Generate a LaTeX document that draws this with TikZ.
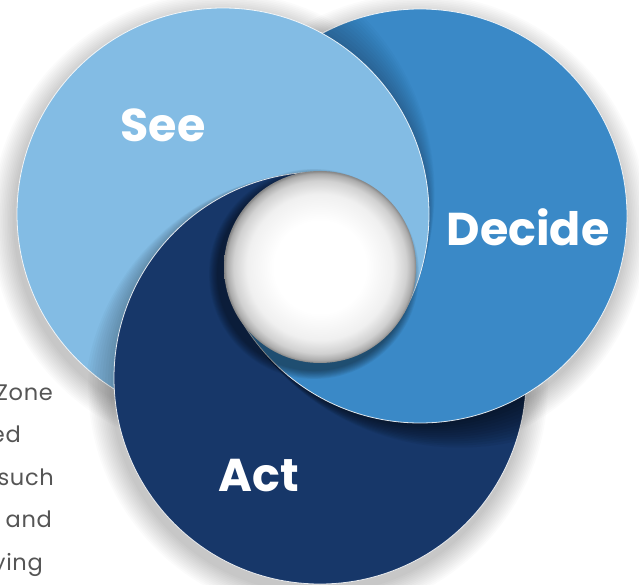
\documentclass[tikz,border=0pt]{standalone}
\usepackage{fontspec}
\setmainfont{Poppins}
\newfontfamily\sidefont[LetterSpace=3]{Poppins}
\definecolor{seec}{HTML}{83BCE4}
\definecolor{decc}{HTML}{3A89C7}
\definecolor{actc}{HTML}{173769}
\definecolor{txtc}{HTML}{555555}
\pgfdeclareradialshading{holeshade}{\pgfpoint{0bp}{0bp}}{%
 color(0bp)=(white); color(12bp)=(white); color(19bp)=(black!6);
 color(22.5bp)=(black!18); color(24.3bp)=(black!33); color(25bp)=(black!48); color(50bp)=(black!48)}
\tikzset{
 rim/.style={draw=white, line width=0.8pt, draw opacity=0.85},
 lbl/.style={text=white, font=\fontsize{46}{46}\selectfont\bfseries, inner sep=0pt},
 side/.style={text=txtc, font=\sidefont\fontsize{22.5}{22.5}\selectfont, inner sep=0pt, anchor=base east},
}
% sectors around the hole centre (320,267)
\newcommand\secAext{(326,267) -- (326,-1000) -- (-1494,-1000) -- (-1494,1195) -- cycle}
\newcommand\secB{(320,267) -- (320,-1000) -- (2000,-1000) -- (2000,1185) -- cycle}
\newcommand\secCext{(320,261) -- (-1500,1189) -- (-1500,3000) -- (2000,3000) -- (2000,1179) -- cycle}
\newcommand\cS{(223,214) circle (206pt)}
\newcommand\cD{(420,216) circle (207pt)}
\newcommand\cA{(320,378) circle (206pt)}
% cast shadows (tapering to nothing at the hole)
\newcommand\shS{\foreach \k in {1,...,12}{\pgfmathsetmacro\ee{\k*3.8}\pgfmathsetmacro\rr{206+\ee}%
  \fill[black,opacity=0.018] ({223-0.878*\ee},{214-0.48*\ee}) circle (\rr pt);}}
\newcommand\shA{\foreach \k in {1,...,10}{\pgfmathsetmacro\ee{\k*3.0}\pgfmathsetmacro\rr{206+\ee}%
  \fill[black,opacity=0.022] (320,{378+\ee}) circle (\rr pt);}}
\newcommand\shD{\foreach \k in {1,...,12}{\pgfmathsetmacro\ee{\k*3.75}\pgfmathsetmacro\rr{207+\ee}%
  \fill[black,opacity=0.055] ({420+0.891*\ee},{216-0.454*\ee}) circle (\rr pt);}}
\begin{document}
\begin{tikzpicture}[x=1pt,y=-1pt]
\useasboundingbox (0,0) rectangle (639,585);
\clip (0,0) rectangle (639,585);
\fill[white] (0,0) rectangle (639,585);
% side text
\node[side] (t1) at (53,400) {Zone};
\node[side] (t2) at (21,442) {ed};
\node[side] (t3) at (54,485) {such};
\node[side] (t4) at (52,527) {y and};
\node[side] (t5) at (43,570) {ying};
% outer drop shadow
\foreach \k in {1,...,14}{\pgfmathsetmacro\rr{206+\k*1.7}
  \fill[black,opacity=0.017] (221,222) circle (\rr pt);
  \fill[black,opacity=0.017] (418,224) circle (\rr pt);
  \fill[black,opacity=0.017] (318,386) circle (\rr pt);}
% sector C (bottom): See, Act, Decide
\begin{scope}
 \clip \secCext;
 \begin{scope}[transparency group]
  \fill[seec] \cS; \draw[rim] \cS;
  \begin{scope}\clip \cS; \shA \end{scope}
  \fill[actc] \cA; \draw[rim] \cA;
  \begin{scope}\clip \cA; \shD \end{scope}
  \fill[decc] \cD; \draw[rim] \cD;
 \end{scope}
\end{scope}
% sector A (left): Decide, See, Act
\begin{scope}
 \clip \secAext;
 \begin{scope}[transparency group]
  \fill[decc] \cD; \draw[rim] \cD;
  \begin{scope}\clip \cD; \shS \end{scope}
  \fill[seec] \cS; \draw[rim] \cS;
  \begin{scope}\clip \cS; \shA \end{scope}
  \fill[actc] \cA; \draw[rim] \cA;
 \end{scope}
\end{scope}
% sector B (right): Act, Decide, See
\begin{scope}
 \clip \secB;
 \begin{scope}[transparency group]
  \fill[actc] \cA; \draw[rim] \cA;
  \begin{scope}\clip \cA; \shD \end{scope}
  \fill[decc] \cD; \draw[rim] \cD;
  \begin{scope}\clip \cD; \shS \end{scope}
  \fill[seec] \cS; \draw[rim] \cS;
 \end{scope}
\end{scope}
% hole shadow and hole
\foreach \k in {1,...,10}{\pgfmathsetmacro\rr{96+\k*0.9}
  \fill[black,opacity=0.05] (314,274) circle (\rr pt);}
\shade[shading=holeshade] (320,267) circle (96pt);
% labels
\node[lbl] (see) at (163,125) {See};
\node[lbl] (decide) at (528,227) {Decide};
\node[lbl] (act) at (259,476) {Act};
\end{tikzpicture}
\end{document}
